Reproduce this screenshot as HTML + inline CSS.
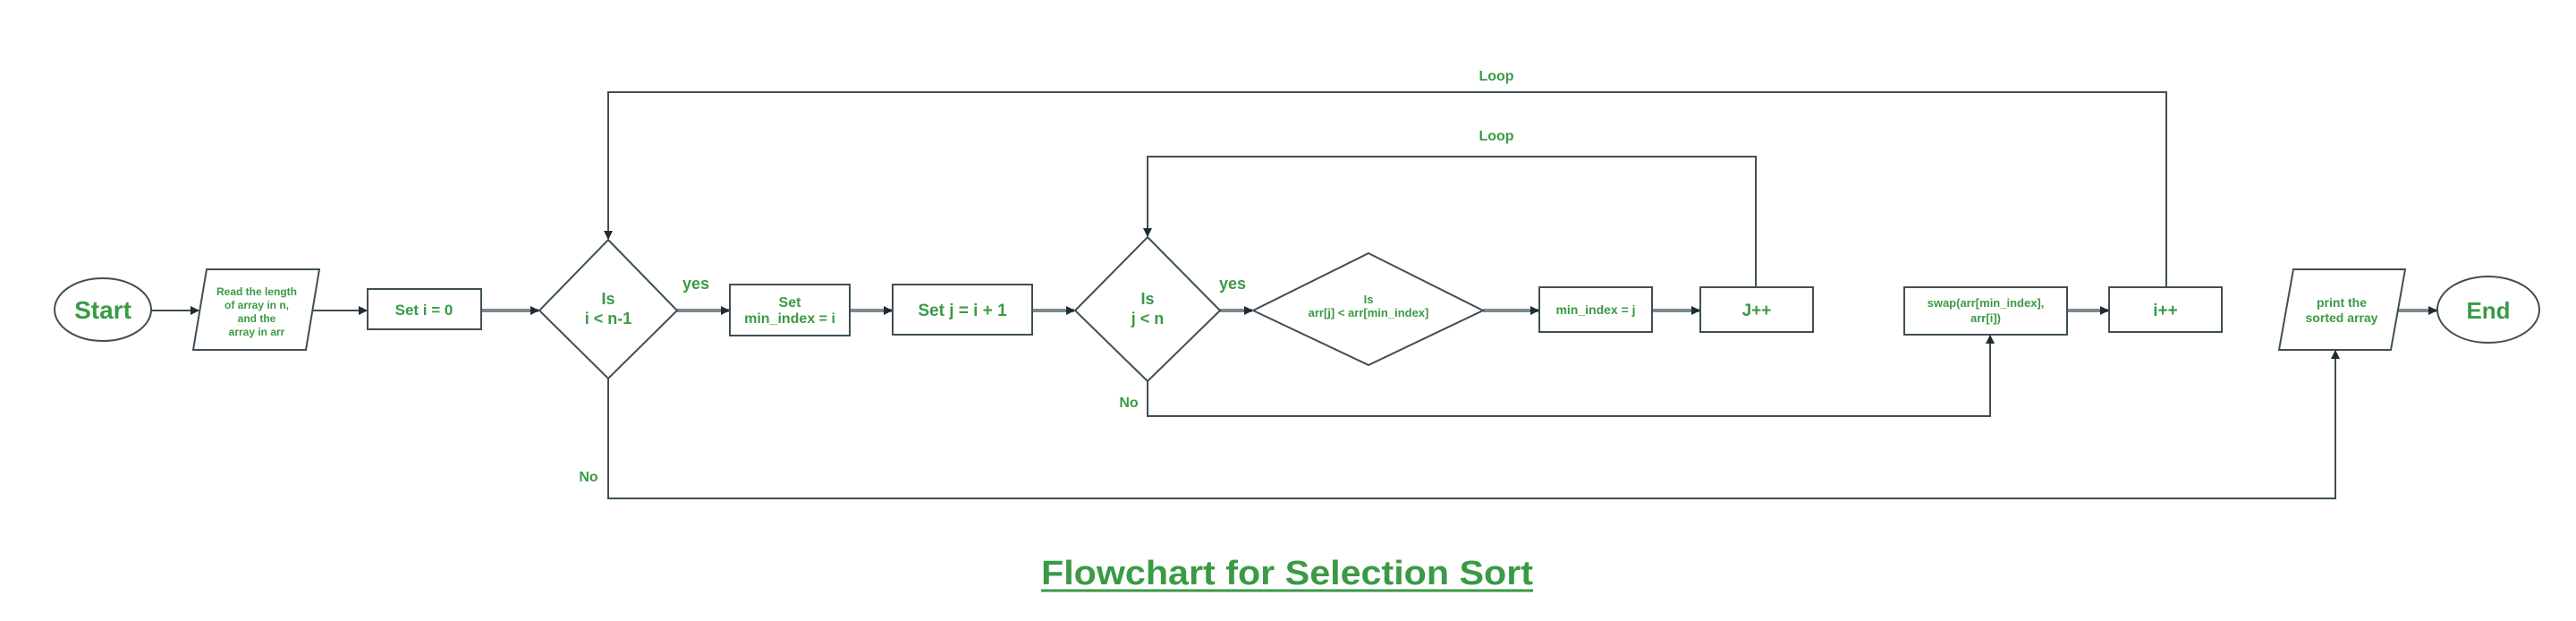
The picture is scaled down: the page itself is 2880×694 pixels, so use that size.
<!DOCTYPE html>
<html><head><meta charset="utf-8"><style>
html,body{margin:0;padding:0;background:#fff;}
svg{display:block}
text{font-family:"Liberation Sans",sans-serif;fill:#3a9a45;font-weight:bold;text-anchor:middle;}
.s{fill:#fff;stroke:#3f4f55;stroke-width:2}
.c{fill:none;stroke:#3f4f55;stroke-width:2}
.h{fill:none;stroke:#7d8a8e;stroke-width:4}
</style></head><body>
<svg width="2880" height="694" viewBox="0 0 2880 694" xmlns="http://www.w3.org/2000/svg">
<defs><marker id="a" markerWidth="10" markerHeight="10" refX="9" refY="5" orient="auto" markerUnits="userSpaceOnUse"><path d="M0,0 L10,5 L0,10 z" fill="#1f2d33"/></marker></defs>

<line class="c" x1="169" y1="347" x2="222" y2="347" marker-end="url(#a)"/>
<line class="c" x1="349" y1="347" x2="410" y2="347" marker-end="url(#a)"/>
<line class="h" x1="538" y1="347" x2="602" y2="347" marker-end="url(#a)"/>
<line class="h" x1="757" y1="347" x2="815" y2="347" marker-end="url(#a)"/>
<line class="h" x1="950" y1="347" x2="997" y2="347" marker-end="url(#a)"/>
<line class="h" x1="1154" y1="347" x2="1201" y2="347" marker-end="url(#a)"/>
<line class="h" x1="1364" y1="347" x2="1400" y2="347" marker-end="url(#a)"/>
<line class="h" x1="1658" y1="347" x2="1720" y2="347" marker-end="url(#a)"/>
<line class="h" x1="1847" y1="347" x2="1900" y2="347" marker-end="url(#a)"/>
<line class="h" x1="2311" y1="347" x2="2357" y2="347" marker-end="url(#a)"/>
<line class="h" x1="2681" y1="347" x2="2724" y2="347" marker-end="url(#a)"/>

<polyline class="c" points="1963,321 1963,175 1283,175 1283,264" marker-end="url(#a)"/>
<polyline class="c" points="2422,321 2422,103 680,103 680,267" marker-end="url(#a)"/>
<polyline class="c" points="1283,426 1283,465 2225,465 2225,375" marker-end="url(#a)"/>
<polyline class="c" points="680,423 680,557 2611,557 2611,392" marker-end="url(#a)"/>

<ellipse class="s" cx="115" cy="346" rx="54" ry="35"/>
<polygon class="s" points="231,301 357,301 342,391 216,391"/>
<rect class="s" x="411" y="323" width="127" height="45"/>
<polygon class="s" points="680,268 757,347 680,423 603,347"/>
<rect class="s" x="816" y="318" width="134" height="57"/>
<rect class="s" x="998" y="318" width="156" height="56"/>
<polygon class="s" points="1283,265 1364,347 1283,426 1202,347"/>
<polygon class="s" points="1530,283 1658,347 1530,408 1401,347"/>
<rect class="s" x="1721" y="321" width="126" height="50"/>
<rect class="s" x="1901" y="321" width="126" height="50"/>
<rect class="s" x="2129" y="321" width="182" height="53"/>
<rect class="s" x="2358" y="321" width="126" height="50"/>
<polygon class="s" points="2564,301 2689,301 2673,391 2548,391"/>
<ellipse class="s" cx="2782" cy="346" rx="57" ry="37"/>

<text x="115" y="356" font-size="28">Start</text>
<text x="287" y="330" font-size="12">Read the length</text>
<text x="287" y="345" font-size="12">of array in n,</text>
<text x="287" y="360" font-size="12">and the</text>
<text x="287" y="375" font-size="12">array in arr</text>
<text x="474" y="352" font-size="17">Set i = 0</text>
<text x="680" y="340" font-size="18">Is</text>
<text x="680" y="362" font-size="18">i &lt; n-1</text>
<text x="778" y="323" font-size="18">yes</text>
<text x="883" y="343" font-size="16">Set</text>
<text x="883" y="361" font-size="16">min_index = i</text>
<text x="1076" y="353" font-size="19">Set j = i + 1</text>
<text x="1283" y="340" font-size="18">Is</text>
<text x="1283" y="362" font-size="18">j &lt;  n</text>
<text x="1378" y="323" font-size="18">yes</text>
<text x="1530" y="339" font-size="13">Is</text>
<text x="1530" y="354" font-size="13">arr[j] &lt; arr[min_index]</text>
<text x="1784" y="351" font-size="14">min_index = j</text>
<text x="1964" y="353" font-size="19">J++</text>
<text x="2220" y="343" font-size="13">swap(arr[min_index],</text>
<text x="2220" y="360" font-size="13">arr[i])</text>
<text x="2421" y="353" font-size="19">i++</text>
<text x="2618" y="343" font-size="14">print the</text>
<text x="2618" y="360" font-size="14">sorted array</text>
<text x="2782" y="356" font-size="26">End</text>
<text x="1673" y="90" font-size="16">Loop</text>
<text x="1673" y="157" font-size="16">Loop</text>
<text x="1262" y="455" font-size="16">No</text>
<text x="658" y="538" font-size="16">No</text>
<text x="1439" y="653" font-size="38" textLength="550" lengthAdjust="spacingAndGlyphs">Flowchart for Selection Sort</text>
<line x1="1164" y1="660" x2="1714" y2="660" stroke="#3a9a45" stroke-width="3"/>
</svg>
</body></html>
